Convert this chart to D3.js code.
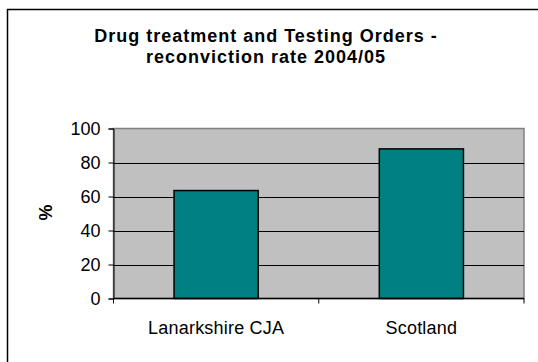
<!DOCTYPE html>
<html><head><meta charset="utf-8">
<script src="https://cdn.jsdelivr.net/npm/d3@7"></script>
<style>body{margin:0;background:#fff;}svg{display:block;font-family:"Liberation Sans",Arial,sans-serif;}</style>
</head><body>
<script>
const categories = ["Lanarkshire CJA", "Scotland"];
const values = [63.5, 88];
const yTicks = [0, 20, 40, 60, 80, 100];
const titleLines = ["Drug treatment and Testing Orders -", "reconviction rate 2004/05"];
const yLabel = "%";

const W = 538, H = 362;
const svg = d3.select("body").append("svg").attr("width", W).attr("height", H);
svg.append("rect").attr("width", W).attr("height", H).attr("fill", "#fff");
// outer chart border (extends past the visible area)
svg.append("rect").attr("x", 7.5).attr("y", 9.5).attr("width", 560).attr("height", 400)
  .attr("fill", "none").attr("stroke", "#000").attr("stroke-width", 1.5);

const m = {l: 113.5, r: 524, t: 128.5, b: 298.5};
const x = d3.scaleBand().domain(categories).range([m.l, m.r]).paddingInner(0.59).paddingOuter(0.295);
const y = d3.scaleLinear().domain([0, 100]).range([m.b, m.t]);

svg.append("rect").attr("x", m.l).attr("y", m.t).attr("width", m.r - m.l).attr("height", m.b - m.t)
  .attr("fill", "#c0c0c0").attr("stroke", "#808080").attr("stroke-width", 1.5);

// gridlines
svg.append("g").selectAll("line").data(yTicks.filter(t => t > 0 && t < 100)).join("line")
  .attr("x1", m.l).attr("x2", m.r).attr("y1", d => Math.round(y(d)) + 0.5).attr("y2", d => Math.round(y(d)) + 0.5)
  .attr("stroke", "#000").attr("stroke-width", 1);

// bars
svg.append("g").selectAll("rect").data(values).join("rect")
  .attr("x", (d, i) => x(categories[i])).attr("width", x.bandwidth())
  .attr("y", d => y(d)).attr("height", d => y(0) - y(d))
  .attr("fill", "#008080").attr("stroke", "#000").attr("stroke-width", 1.5);

// y axis
const ya = d3.axisLeft(y).tickValues(yTicks).tickSize(5).tickPadding(8);
const gy = svg.append("g").attr("transform", `translate(${m.l},0)`).call(ya);
gy.select(".domain").attr("stroke", "#000").attr("stroke-width", 1);
gy.selectAll("text").attr("font-size", 18).attr("fill", "#000").attr("font-family", '"Liberation Sans",Arial,sans-serif');

// x axis
const xb = d3.scaleBand().domain(categories).range([m.l, m.r]);
const gx = svg.append("g").attr("transform", `translate(0,${m.b})`);
gx.append("line").attr("x1", m.l).attr("x2", m.r).attr("stroke", "#000").attr("stroke-width", 1.5);
gx.selectAll("line.t").data([m.l, ...categories.map(c => xb(c) + xb.bandwidth())]).join("line")
  .attr("class", "t").attr("x1", d => d).attr("x2", d => d).attr("y1", 0).attr("y2", 5).attr("stroke", "#000");
gx.selectAll("text").data(categories).join("text")
  .attr("x", d => xb(d) + xb.bandwidth() / 2).attr("y", 35.5).attr("text-anchor", "middle")
  .attr("font-size", 18).attr("letter-spacing", 0.2).attr("fill", "#000").text(d => d);

// title
svg.append("g").selectAll("text").data(titleLines).join("text")
  .attr("x", 266).attr("y", (d, i) => 42 + i * 21).attr("text-anchor", "middle")
  .attr("font-size", 18).attr("font-weight", "bold").attr("letter-spacing", 1).text(d => d);

// y label
svg.append("text").attr("transform", `translate(51.5,212.5) rotate(-90)`).attr("text-anchor", "middle")
  .attr("font-size", 18).attr("font-weight", "bold").text(yLabel);
</script>
</body></html>
